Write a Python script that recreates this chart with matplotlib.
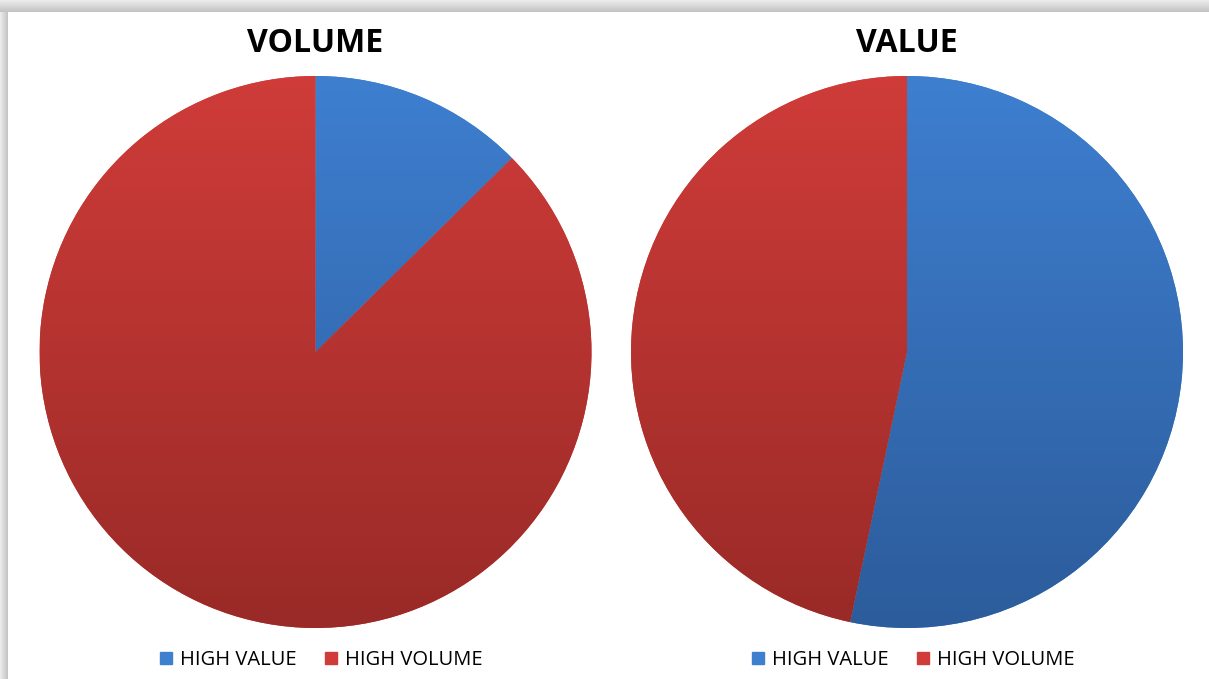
import numpy as np
import matplotlib.pyplot as plt
from matplotlib.colors import LinearSegmentedColormap
from matplotlib.patches import Patch

# pie data (share of HIGH VALUE / HIGH VOLUME)
labels = ["HIGH VALUE", "HIGH VOLUME"]
volume = [12.6, 87.4]
value = [53.3, 46.7]
titles = ["VOLUME", "VALUE"]

blue_top, blue_bot = "#3e7fd0", "#2c5c9b"
red_top, red_bot = "#cf3c39", "#992a27"

W, H = 1209, 679
fig = plt.figure(figsize=(W / 100, H / 100), dpi=100)
fig.patch.set_facecolor("white")

# shadow frame around the white panel
bg = fig.add_axes([0, 0, 1, 1])
yy, xx = np.mgrid[0:H, 0:W]
shade = np.ones((H, W))
top = yy < 12
shade[top] = 0.92 - 0.17 * (yy[top] / 12.0)
left = (xx < 8) & (yy >= 12)
shade[left] = np.minimum(shade[left], 0.92 - 0.17 * (xx[left] / 8.0))
bg.imshow(shade, cmap="gray", vmin=0, vmax=1, aspect="auto", extent=(0, W, H, 0))
bg.set_axis_off()

R = 276
centers = [(315.5, 352), (907, 352)]

grad = np.linspace(0, 1, 256).reshape(-1, 1)
cmaps = [LinearSegmentedColormap.from_list("b", [blue_top, blue_bot]),
         LinearSegmentedColormap.from_list("r", [red_top, red_bot])]

for (cx, cy), data, title in zip(centers, [volume, value], titles):
    ax = fig.add_axes([(cx - R) / W, (H - cy - R) / H, 2 * R / W, 2 * R / H])
    wedges, _ = ax.pie(data, colors=[blue_top, red_top], startangle=90,
                       counterclock=False, radius=1)
    for w, cm in zip(wedges, cmaps):
        w.set_edgecolor("none")
        im = ax.imshow(grad, cmap=cm, extent=(-1, 1, -1, 1), aspect="auto", zorder=2)
        im.set_clip_path(w)
    ax.set_xlim(-1, 1)
    ax.set_ylim(-1, 1)
    ax.set_axis_off()
    fig.text(cx / W, 1 - 44 / H, title, ha="center", va="center",
             fontsize=23, fontweight="bold", family="Open Sans")
    handles = [Patch(color=blue_top, label=labels[0]),
               Patch(color=red_top, label=labels[1])]
    fig.legend(handles=handles, loc="center", ncol=2, frameon=False,
               bbox_to_anchor=((cx + 6) / W, 1 - 660 / H),
               handlelength=0.6, handleheight=0.6, handletextpad=0.4,
               columnspacing=1.4, prop={"family": "Open Sans", "size": 14.5})

fig.savefig("out.png", dpi=100)
